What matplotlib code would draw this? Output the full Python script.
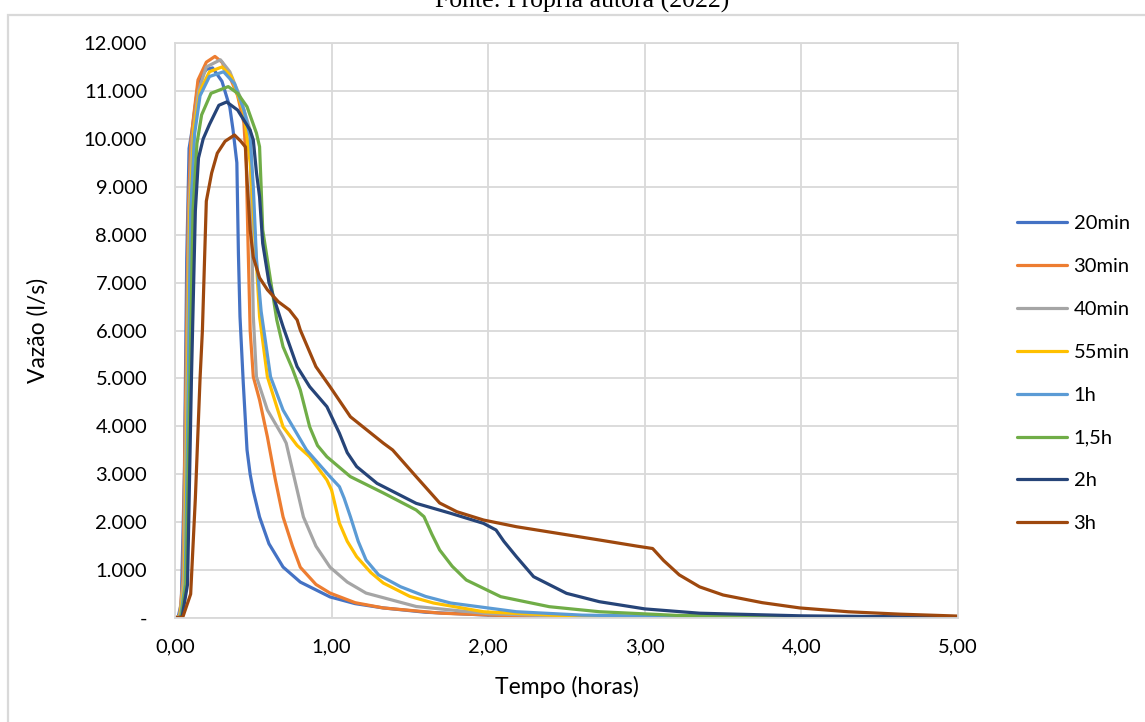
import matplotlib
matplotlib.use("Agg")
import matplotlib.pyplot as plt
from matplotlib.patches import Rectangle
from matplotlib.ticker import FuncFormatter

plt.rcParams['font.family'] = ['Lato', 'DejaVu Sans']

# ---- data (time in hours, flow in l/s) ----
t_20min = [0, 0.02, 0.04, 0.06, 0.075, 0.09, 0.11, 0.15, 0.2, 0.24, 0.3, 0.35, 0.37, 0.395, 0.405,
           0.415, 0.436, 0.46, 0.48, 0.5, 0.54, 0.6, 0.69, 0.8, 0.99, 1.15, 1.33, 1.6, 2.0, 2.5, 3.0, 4.0, 5.0]
q_20min = [0, 20, 300, 3000, 7500, 9800, 10200, 11200, 11450, 11480, 11200, 10660, 10200, 9500, 7600,
           6290, 4900, 3506, 3000, 2650, 2108, 1550, 1064, 750, 440, 300, 210, 120, 60, 30, 15, 5, 0]

t_30min = [0, 0.03, 0.05, 0.07, 0.085, 0.1, 0.12, 0.147, 0.2, 0.255, 0.3, 0.35, 0.4, 0.44, 0.455, 0.465,
           0.48, 0.5, 0.54, 0.59, 0.64, 0.69, 0.75, 0.8, 0.9, 0.99, 1.15, 1.33, 1.7, 2.2, 3.0, 5.0]
q_30min = [0, 50, 800, 5000, 8500, 9900, 10500, 11230, 11600, 11720, 11600, 11290, 10900, 10330, 9500, 8000,
           6000, 5035, 4550, 3780, 2900, 2110, 1500, 1060, 700, 520, 320, 210, 100, 40, 10, 0]

t_40min = [0, 0.03, 0.055, 0.075, 0.09, 0.11, 0.15, 0.2, 0.29, 0.35, 0.415, 0.45, 0.48, 0.49, 0.5,
           0.52, 0.59, 0.69, 0.71, 0.76, 0.82, 0.9, 0.99, 1.1, 1.22, 1.54, 2.0, 2.5, 3.5, 5.0]
q_40min = [0, 30, 800, 5000, 8500, 10000, 11000, 11500, 11650, 11400, 10880, 10500, 10180, 8000, 6300,
           5035, 4340, 3780, 3650, 2950, 2110, 1500, 1060, 750, 520, 240, 90, 35, 10, 0]

t_55min = [0, 0.03, 0.06, 0.08, 0.095, 0.12, 0.16, 0.22, 0.3, 0.36, 0.44, 0.48, 0.5, 0.52, 0.54, 0.59,
           0.69, 0.78, 0.86, 0.97, 1.0, 1.05, 1.1, 1.16, 1.25, 1.33, 1.5, 1.65, 1.97, 2.5, 3.5, 5.0]
q_55min = [0, 20, 700, 5000, 8500, 10200, 11000, 11400, 11500, 11300, 10540, 9500, 8500, 7400, 6290, 5035,
           3990, 3600, 3365, 2880, 2670, 1980, 1600, 1280, 950, 730, 450, 313, 131, 45, 10, 0]

t_1h = [0, 0.035, 0.065, 0.085, 0.1, 0.125, 0.16, 0.22, 0.31, 0.38, 0.44, 0.48, 0.5, 0.52, 0.55, 0.61,
        0.69, 0.84, 0.99, 1.05, 1.08, 1.12, 1.17, 1.22, 1.3, 1.44, 1.6, 1.76, 2.18, 2.6, 3.5, 5.0]
q_1h = [0, 20, 700, 5000, 8500, 10100, 10900, 11300, 11400, 11150, 10600, 10045, 9000, 7500, 6400, 5035,
        4340, 3506, 2950, 2740, 2500, 2115, 1600, 1210, 900, 653, 450, 313, 131, 60, 15, 0]

t_15h = [0, 0.04, 0.07, 0.095, 0.115, 0.14, 0.17, 0.23, 0.34, 0.4, 0.46, 0.52, 0.54, 0.55, 0.56, 0.61,
         0.65, 0.69, 0.75, 0.8, 0.86, 0.91, 0.97, 1.12, 1.33, 1.54, 1.59, 1.64, 1.69, 1.77, 1.86, 2.08,
         2.39, 2.71, 3.2, 4.0, 5.0]
q_15h = [0, 20, 700, 5000, 8500, 9900, 10500, 10950, 11090, 10950, 10670, 10120, 9835, 9000, 8100, 7050,
         6220, 5660, 5200, 4760, 3990, 3600, 3365, 2950, 2610, 2254, 2115, 1750, 1420, 1080, 793, 445,
         236, 131, 55, 15, 0]

t_2h = [0, 0.045, 0.08, 0.105, 0.13, 0.15, 0.18, 0.22, 0.28, 0.33, 0.4, 0.48, 0.5, 0.52, 0.54, 0.56, 0.6,
        0.69, 0.78, 0.86, 0.97, 1.05, 1.1, 1.16, 1.29, 1.54, 1.76, 1.97, 2.05, 2.1, 2.18, 2.29, 2.5, 2.71,
        3.0, 3.35, 4.0, 5.0]
q_2h = [0, 20, 700, 5000, 8500, 9600, 10000, 10300, 10700, 10770, 10600, 10180, 9975, 9300, 8790, 7820, 7000,
        6080, 5245, 4827, 4410, 3855, 3450, 3160, 2810, 2393, 2185, 1975, 1836, 1600, 1280, 862, 515, 340,
        190, 100, 45, 15]

t_3h = [0, 0.05, 0.1, 0.13, 0.16, 0.175, 0.2, 0.234, 0.27, 0.32, 0.38, 0.42, 0.45, 0.46, 0.48, 0.5, 0.54,
        0.59, 0.66, 0.73, 0.78, 0.8, 0.9, 0.99, 1.12, 1.33, 1.39, 1.54, 1.69, 1.8, 1.97, 2.18, 2.71, 2.95,
        3.05, 3.12, 3.22, 3.35, 3.5, 3.75, 3.99, 4.3, 4.63, 5.0]
q_3h = [0, 20, 500, 2500, 5000, 6000, 8700, 9286, 9700, 9950, 10080, 9950, 9830, 9140, 8100, 7530, 7100,
        6850, 6600, 6430, 6220, 6010, 5245, 4827, 4200, 3650, 3506, 2950, 2400, 2218, 2045, 1905, 1628, 1500,
        1450, 1200, 900, 650, 480, 320, 210, 130, 80, 40]

labels = ['20min', '30min', '40min', '55min', '1h', '1,5h', '2h', '3h']
colors = ['#4472C4', '#ED7D31', '#A5A5A5', '#FFC000', '#5B9BD5', '#70AD47', '#264478', '#9E480E']
series = [(t_20min, q_20min), (t_30min, q_30min), (t_40min, q_40min), (t_55min, q_55min),
          (t_1h, q_1h), (t_15h, q_15h), (t_2h, q_2h), (t_3h, q_3h)]

xticks = [0, 1, 2, 3, 4, 5]
yticks = list(range(0, 12001, 1000))

# ---- figure ----
W, H = 1145, 722
fig = plt.figure(figsize=(W / 100, H / 100), dpi=100)
fig.patch.set_facecolor('white')

# outer chart frame (partially visible)
fig.add_artist(Rectangle((8 / W, -0.1), 1.2, (H - 15) / H + 0.1, transform=fig.transFigure,
                         fill=False, edgecolor='#d9d9d9', linewidth=1.6))
fig.text(582 / W, (H - 8) / H, 'Fonte: Própria autora (2022)', ha='center', va='baseline',
         fontsize=18.5, family=['Liberation Serif', 'DejaVu Serif'], color='#000000')

ax = fig.add_axes([175 / W, (H - 618) / H, (958 - 175) / W, (618 - 43) / H])
for (t, q), lab, c in zip(series, labels, colors):
    ax.plot(t, q, color=c, linewidth=2.3, label=lab, solid_joinstyle='round', solid_capstyle='round')

ax.set_xlim(0, 5)
ax.set_ylim(0, 12000)
ax.set_xticks(xticks)
ax.set_yticks(yticks)
ax.xaxis.set_major_formatter(FuncFormatter(lambda v, p: f'{v:.2f}'.replace('.', ',')))
ax.yaxis.set_major_formatter(FuncFormatter(lambda v, p: '-' if v == 0 else f'{int(v):,}'.replace(',', '.')))
ax.grid(True, color='#d9d9d9', linewidth=1.3)
ax.set_axisbelow(True)
for s in ax.spines.values():
    s.set_color('#d9d9d9')
    s.set_linewidth(1.3)
ax.tick_params(axis='y', length=0, labelsize=14.5, colors='#000000', pad=20)
ax.tick_params(axis='x', length=0, labelsize=14.5, colors='#000000', pad=15)
ax.set_xlabel('Tempo (horas)', fontsize=16.5)
ax.set_ylabel('Vazão (l/s)', fontsize=16.5)
ax.xaxis.set_label_coords(0.5, (618 - 676) / 575)
ax.yaxis.set_label_coords((49 - 175) / 783, 0.5)

leg = fig.legend(loc='upper left', bbox_to_anchor=(999 / W, (H - 197) / H), frameon=False,
                 fontsize=14.5, handlelength=2.5, handletextpad=0.3, labelspacing=1.28)

fig.savefig('out.png', dpi=100, facecolor='white')
